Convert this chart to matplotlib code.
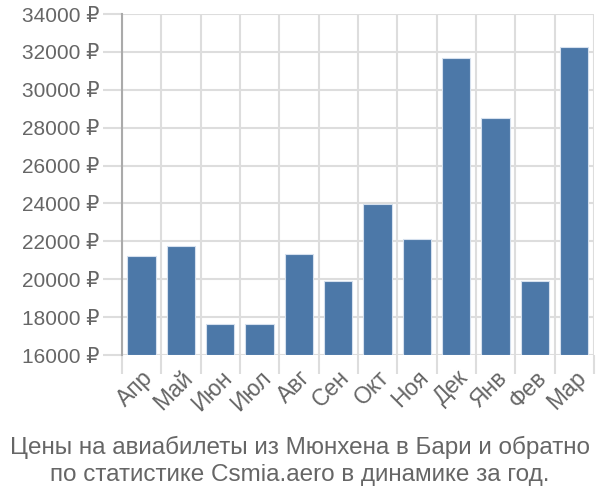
import matplotlib.pyplot as plt
from matplotlib.ticker import FixedLocator

months = ['Апр', 'Май', 'Июн', 'Июл', 'Авг', 'Сен', 'Окт', 'Ноя', 'Дек', 'Янв', 'Фев', 'Мар']
prices = [21200, 21750, 17650, 17650, 21350, 19900, 23970, 22120, 31680, 28520, 19900, 32270]
y_ticks = list(range(16000, 34001, 2000))
title = 'Цены на авиабилеты из Мюнхена в Бари и обратно\nпо статистике Csmia.aero в динамике за год.'

plt.rcParams['font.family'] = ['Liberation Sans', 'DejaVu Sans']

fig = plt.figure(figsize=(6, 5), dpi=100)
ax = fig.add_axes([0.203, 0.29, 0.787, 0.682])

x = list(range(len(months)))
ax.bar(x, [p - 16000 for p in prices], bottom=16000, width=0.72,
       color='#4c78a8', edgecolor='#d5e0ee', linewidth=0.8, zorder=3)

ax.set_xlim(-0.5, len(months) - 0.5)
ax.set_ylim(16000, 34000)
ax.set_yticks(y_ticks)
ax.set_yticklabels([f'{v} ₽' for v in y_ticks])
ax.set_xticks(x)
ax.set_xticklabels(months, rotation=45, ha='right', va='top', rotation_mode='anchor')
ax.xaxis.set_minor_locator(FixedLocator([i - 0.5 for i in range(len(months) + 1)]))

ax.tick_params(axis='y', length=14, color='#dddddd', width=1.5, labelsize=15,
               labelcolor='#666666', pad=2)
ax.tick_params(axis='x', which='major', length=0, labelsize=16.5, labelcolor='#666666', pad=8)
ax.tick_params(axis='x', which='minor', length=14, color='#dddddd', width=1.5)

ax.grid(axis='y', color='#dddddd', linewidth=1.5, zorder=0)
ax.grid(axis='x', which='minor', color='#dddddd', linewidth=1.5, zorder=0)

for side in ['top', 'right', 'bottom']:
    ax.spines[side].set_visible(False)
ax.spines['left'].set_color('#aaaaaa')
ax.spines['left'].set_linewidth(1.5)
ax.spines['left'].set_bounds(16000, 34000)

fig.text(0.5, 0.027, title, ha='center', va='bottom', fontsize=17.5,
         color='#666666', linespacing=1.3)

fig.savefig('out.png')
